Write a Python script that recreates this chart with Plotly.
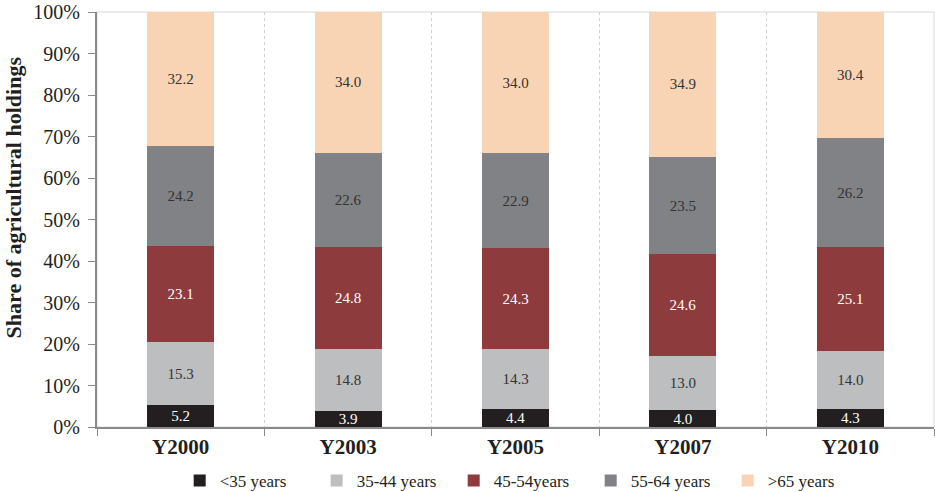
import plotly.graph_objects as go

categories = ["Y2000", "Y2003", "Y2005", "Y2007", "Y2010"]
series_names = ["<35 years", "35-44 years", "45-54years", "55-64 years", ">65 years"]
under35 = [5.2, 3.9, 4.4, 4.0, 4.3]
age35_44 = [15.3, 14.8, 14.3, 13.0, 14.0]
age45_54 = [23.1, 24.8, 24.3, 24.6, 25.1]
age55_64 = [24.2, 22.6, 22.9, 23.5, 26.2]
over65 = [32.2, 34.0, 34.0, 34.9, 30.4]
y_ticks = [0, 10, 20, 30, 40, 50, 60, 70, 80, 90, 100]
y_title = "Share of agricultural holdings"

series = [under35, age35_44, age45_54, age55_64, over65]
colors = ["#231f20", "#bcbec0", "#8d3b3d", "#818285", "#f9d4b4"]
text_colors = ["#ffffff", "#333333", "#ffffff", "#333333", "#333333"]

fig = go.Figure()
for name, vals, c, tc in zip(series_names, series, colors, text_colors):
    fig.add_trace(go.Bar(
        x=categories, y=vals, name=name, marker=dict(color=c, line=dict(width=0)),
        text=[f"{v:.1f}" for v in vals], textposition="inside",
        insidetextanchor="middle", textangle=0,
        textfont=dict(family="Liberation Serif", size=15, color=tc),
        hoverinfo="skip",
    ))

fig.update_layout(
    barmode="stack", barnorm="percent", bargap=0.6,
    width=935, height=492,
    margin=dict(l=97, r=1, t=12, b=65, autoexpand=False),
    paper_bgcolor="white", plot_bgcolor="white",
    font=dict(family="Liberation Serif", color="#231f20"),
    uniformtext=dict(minsize=15, mode="show"),
    showlegend=True,
    legend=dict(orientation="h", x=0.508, xanchor="center", y=-0.13, yanchor="middle",
                font=dict(size=17, family="Liberation Serif"), itemwidth=30,
                entrywidth=92, traceorder="normal"),
    xaxis=dict(type="category", tickson="boundaries", showgrid=True, automargin=False,
               gridcolor="#d0d0d0", griddash="dot", gridwidth=1,
               showline=True, linecolor="#8a8a8a", linewidth=2,
               ticks="outside", ticklen=7, tickcolor="#8a8a8a", tickwidth=1,
               tickfont=dict(size=21, family="Liberation Serif", color="#231f20", weight="bold")),
    yaxis=dict(range=[0, 100], tickvals=y_ticks, ticktext=[f"{t}%" for t in y_ticks],
               showgrid=False, zeroline=False, automargin=False,
               showline=True, linecolor="#8a8a8a", linewidth=2,
               ticks="outside", ticklen=7, tickcolor="#8a8a8a", ticklabelstandoff=4,
               tickfont=dict(size=20, family="Liberation Serif", color="#231f20")),
    annotations=[dict(text=f"<b>{y_title}</b>", xref="paper", yref="paper",
                      x=-0.1, y=0.554, xanchor="center", yanchor="middle",
                      textangle=-90, showarrow=False,
                      font=dict(size=22, family="Liberation Serif", color="#231f20"))],
    shapes=[dict(type="rect", xref="paper", yref="paper", x0=0, x1=1, y0=0, y1=1,
                 line=dict(color="#d8d8d8", width=1), layer="below")],
)

fig.write_html("out.html", config={"displayModeBar": False},
               post_script="document.body.style.margin='0px';")
